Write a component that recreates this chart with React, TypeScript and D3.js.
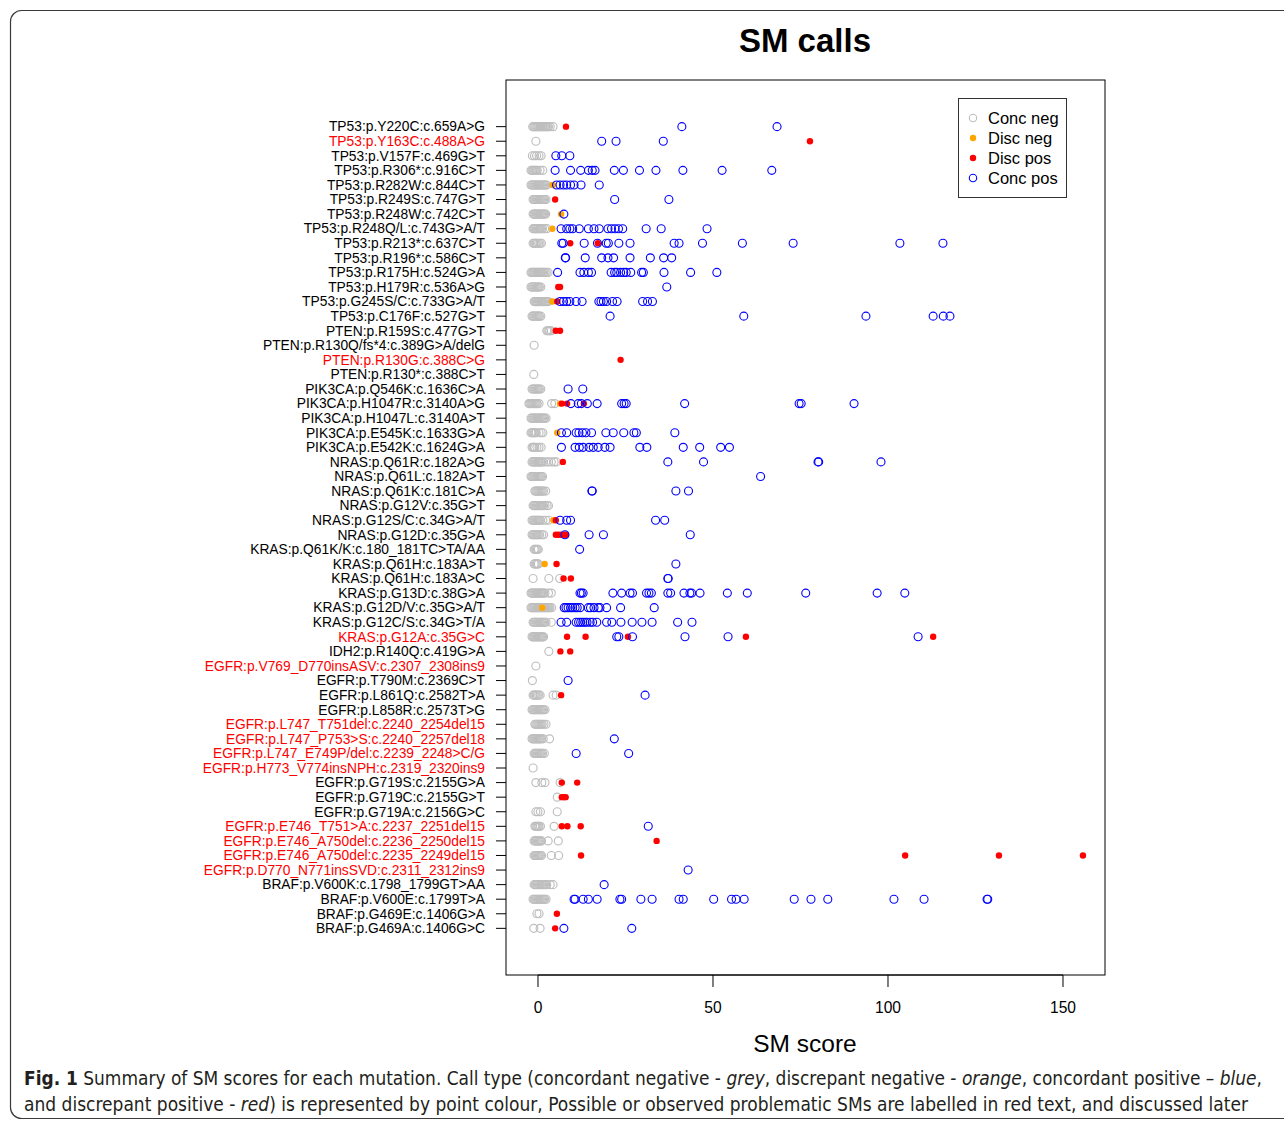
import React from "react";
import * as d3 from "d3";

const mutations: string[] = [
  "TP53:p.Y220C:c.659A>G","TP53:p.Y163C:c.488A>G","TP53:p.V157F:c.469G>T","TP53:p.R306*:c.916C>T",
  "TP53:p.R282W:c.844C>T","TP53:p.R249S:c.747G>T","TP53:p.R248W:c.742C>T","TP53:p.R248Q/L:c.743G>A/T",
  "TP53:p.R213*:c.637C>T","TP53:p.R196*:c.586C>T","TP53:p.R175H:c.524G>A","TP53:p.H179R:c.536A>G",
  "TP53:p.G245S/C:c.733G>A/T","TP53:p.C176F:c.527G>T","PTEN:p.R159S:c.477G>T","PTEN:p.R130Q/fs*4:c.389G>A/delG",
  "PTEN:p.R130G:c.388C>G","PTEN:p.R130*:c.388C>T","PIK3CA:p.Q546K:c.1636C>A","PIK3CA:p.H1047R:c.3140A>G",
  "PIK3CA:p.H1047L:c.3140A>T","PIK3CA:p.E545K:c.1633G>A","PIK3CA:p.E542K:c.1624G>A","NRAS:p.Q61R:c.182A>G",
  "NRAS:p.Q61L:c.182A>T","NRAS:p.Q61K:c.181C>A","NRAS:p.G12V:c.35G>T","NRAS:p.G12S/C:c.34G>A/T",
  "NRAS:p.G12D:c.35G>A","KRAS:p.Q61K/K:c.180_181TC>TA/AA","KRAS:p.Q61H:c.183A>T","KRAS:p.Q61H:c.183A>C",
  "KRAS:p.G13D:c.38G>A","KRAS:p.G12D/V:c.35G>A/T","KRAS:p.G12C/S:c.34G>T/A","KRAS:p.G12A:c.35G>C",
  "IDH2:p.R140Q:c.419G>A","EGFR:p.V769_D770insASV:c.2307_2308ins9","EGFR:p.T790M:c.2369C>T","EGFR:p.L861Q:c.2582T>A",
  "EGFR:p.L858R:c.2573T>G","EGFR:p.L747_T751del:c.2240_2254del15","EGFR:p.L747_P753>S:c.2240_2257del18","EGFR:p.L747_E749P/del:c.2239_2248>C/G",
  "EGFR:p.H773_V774insNPH:c.2319_2320ins9","EGFR:p.G719S:c.2155G>A","EGFR:p.G719C:c.2155G>T","EGFR:p.G719A:c.2156G>C",
  "EGFR:p.E746_T751>A:c.2237_2251del15","EGFR:p.E746_A750del:c.2236_2250del15","EGFR:p.E746_A750del:c.2235_2249del15","EGFR:p.D770_N771insSVD:c.2311_2312ins9",
  "BRAF:p.V600K:c.1798_1799GT>AA","BRAF:p.V600E:c.1799T>A","BRAF:p.G469E:c.1406G>A","BRAF:p.G469A:c.1406G>C",
];

const problematic: number[] = [2, 17, 36, 38, 42, 43, 44, 45, 49, 50, 51, 52];

// Conc neg (grey open circles), indexed by row (1-based)
const concNeg: Record<number, number[]> = {
  1: [-1.5,-1.2,-0.9,-0.6,-0.3,0,0.3,0.6,0.9,1.2,1.5,1.8,2.1,2.4,2.7,3.0,3.5,4.3],
  2: [-0.6],
  3: [-1.6,-1.0,-0.4,0.3,0.9],
  4: [-2.0,-1.7,-1.4,-1.1,-0.8,-0.5,-0.2,0.6,1.4],
  5: [-2.0,-1.7,-1.4,-1.1,-0.8,-0.5,-0.2,0.1,0.4,0.7,1.0,1.3,1.6,1.9,2.2,2.5],
  6: [-1.4,-1.1,-0.8,-0.5,-0.2,0.1,0.4,0.7,1.0,1.3,1.6,1.9,2.3],
  7: [-1.4,-1.1,-0.8,-0.5,-0.2,0.1,0.4,0.7,1.0,1.3,1.6,1.9,2.2],
  8: [-1.4,-1.1,-0.8,-0.5,-0.2,0.1,0.4,0.7,1.0,1.3,1.9,2.5],
  9: [-1.4,-1.1,-0.8,-0.5,-0.2,0.2,0.6,1.0],
  11: [-2.0,-1.7,-1.4,-1.1,-0.8,-0.5,-0.2,0.1,0.4,0.7,1.0,1.3,1.6,2.0,2.4,2.9],
  12: [-2.0,-1.7,-1.4,-1.1,-0.8,-0.5,-0.2,0.1,0.4,0.8],
  13: [-1.1,-0.8,-0.5,-0.2,0.1,0.4,0.7,1.0,1.3,1.6,1.9,2.2,2.5,3.0],
  14: [-1.7,-1.4,-1.1,-0.8,-0.5,-0.2,0.1,0.4,0.8],
  15: [2.5,2.8,3.1,3.4,3.8],
  16: [-1.1],
  18: [-1.2],
  19: [-1.7,-1.4,-1.1,-0.8,-0.5,-0.2,0.1,0.4,0.8],
  20: [-2.6,-2.3,-2.0,-1.7,-1.4,-1.1,-0.8,-0.5,-0.2,0.3,3.9,4.8],
  21: [-2.0,-1.7,-1.4,-1.1,-0.8,-0.5,-0.2,0.1,0.4,0.7,1.0,1.3,1.6,1.9,2.3],
  22: [-2.0,-1.7,-1.4,-1.1,-0.8,-0.5,0.3,0.9,1.4],
  23: [-1.7,-1.4,-1.1,-0.9,-0.3,0.3,0.9],
  24: [-1.7,-1.4,-1.1,-0.8,-0.5,-0.2,0.1,0.4,0.7,1.0,1.4,2.2,3.0,3.8,4.6,5.2],
  25: [-2.0,-1.7,-1.4,-1.1,-0.8,-0.5,-0.2,0.1,0.4,0.7,1.0,1.3],
  26: [-0.9,-0.6,-0.3,0,0.3,0.6,0.9,1.2,1.6,2.2],
  27: [-1.4,-1.1,-0.8,-0.5,-0.2,0.1,0.4,0.7,1.0,1.3,1.6,2.0,2.6,3.0],
  28: [-1.7,-1.4,-1.1,-0.8,-0.5,-0.2,0.1,0.4,0.7,1.4,2.2,3.0],
  29: [-1.7,-1.4,-1.1,-0.8,-0.5,-0.2,0.1,0.5,1.1,1.6],
  30: [-1.1,-0.8,-0.5,-0.2,0.1],
  31: [-1.1,-0.8,-0.5,-0.2,0.1],
  32: [-1.4,3.1,6.2],
  33: [-2.0,-1.7,-1.4,-1.1,-0.8,-0.5,-0.2,0.1,0.4,0.7,1.0,1.3,1.6,2.0,3.0,3.8],
  34: [-2.0,-1.7,-1.4,-1.1,-0.8,-0.5,-0.2,0.1,0.4,0.7,1.0,1.3,1.6,1.9,2.2,2.5,2.8,3.1,3.4,3.9],
  35: [-1.4,-1.1,-0.8,-0.5,-0.2,0.1,0.4,0.7,1.0,1.3,1.6,1.9,2.3,3.8],
  36: [-1.7,-1.4,-1.1,-0.8,-0.5,-0.2,0.1,0.4,0.7,1.0,1.3,1.6],
  37: [3.1],
  38: [-0.6],
  39: [-1.6],
  40: [-1.4,-1.1,-0.8,-0.5,-0.2,0.2,0.6,4.3,5.2],
  41: [-1.7,-1.4,-1.1,-0.8,-0.5,-0.2,0.1,0.4,0.7,1.0,1.3,1.6,2.0],
  42: [-0.9,-0.6,-0.3,0,0.3,0.6,0.9,1.2,1.7,2.3],
  43: [-1.7,-1.4,-1.1,-0.8,-0.5,-0.2,0.1,0.4,0.7,1.0,1.5,3.3],
  44: [-1.1,-0.8,-0.5,-0.2,0.1,0.4,0.7,1.0,1.3,1.8],
  45: [-1.4],
  46: [-0.6,1.1,2.0,6.3],
  47: [5.5],
  48: [-0.6,0,0.7,5.5],
  49: [-0.9,-0.6,-0.3,0,0.3,0.7,4.6],
  50: [-1.1,-0.8,-0.5,-0.2,0.1,0.4,0.7,1.0,2.9,5.8],
  51: [-1.1,-0.8,-0.5,-0.2,0.1,0.4,0.7,1.0,3.8,5.9],
  53: [-1.1,-0.8,-0.5,-0.2,0.1,0.4,0.7,1.0,1.3,1.6,1.9,2.2,2.5,3.5,4.3],
  54: [-1.4,-1.1,-0.8,-0.5,-0.2,0.1,0.4,0.7,1.0,1.3,1.6,1.9,2.3],
  55: [-0.3,0.3],
  56: [-1.2,0.6],
};

// Disc neg (orange filled)
const discNeg: Record<number, number[]> = {
  5: [4.2], 7: [6.6], 8: [4.1], 13: [4.1], 20: [6.3], 22: [5.5], 28: [4.4], 31: [1.9], 34: [1.2],
};

// Disc pos (red filled)
const discPos: Record<number, number[]> = {
  1: [8.0], 2: [77.7], 6: [4.9], 9: [9.2, 17.1], 12: [5.8, 6.3], 13: [5.5], 15: [5.1, 6.3],
  17: [23.6], 20: [6.8, 8.3, 13.1], 24: [7.1], 28: [5.1], 29: [5.1, 5.8, 6.6, 7.5, 8.0],
  31: [5.3], 32: [7.3, 9.4], 36: [8.3, 13.6, 25.7, 59.4, 112.9], 37: [6.4, 9.2], 40: [6.6],
  46: [6.8, 11.2], 47: [6.8, 7.4, 7.9], 49: [6.8, 8.4, 12.2], 50: [33.9],
  51: [12.3, 104.9, 131.7, 155.7], 55: [5.4], 56: [4.9],
};

// Conc pos (blue open circles)
const concPos: Record<number, number[]> = {
  1: [41.1, 68.3],
  2: [18.2, 22.3, 35.8],
  3: [5.1, 6.8, 9.1],
  4: [4.9, 9.3, 12.2, 14.4, 15.5, 16.3, 21.8, 24.4, 29.0, 33.7, 41.4, 52.6, 66.8],
  5: [5.3, 6.3, 7.3, 8.2, 9.3, 10.3, 12.3, 17.5],
  6: [21.9, 37.4],
  7: [7.4],
  8: [6.6, 8.2, 9.1, 9.9, 11.8, 14.4, 16.0, 17.5, 20.0, 21.0, 22.0, 23.0, 24.2, 30.9, 35.2, 48.3],
  9: [6.8, 7.2, 13.2, 17.0, 19.5, 20.1, 23.1, 26.3, 38.9, 40.3, 47.0, 58.4, 72.9, 103.4, 115.7],
  10: [7.8, 7.9, 13.5, 18.2, 20.0, 21.6, 26.3, 32.1, 35.9, 38.2],
  11: [5.6, 12.0, 13.1, 14.4, 15.3, 20.9, 21.9, 22.5, 23.6, 24.5, 25.2, 26.5, 29.6, 30.1, 36.0, 43.6, 51.1],
  12: [36.8],
  13: [6.3, 7.3, 8.2, 9.1, 10.9, 12.6, 17.4, 18.0, 18.7, 19.6, 21.3, 22.6, 29.9, 31.3, 32.7],
  14: [20.6, 58.8, 93.7, 112.9, 115.8, 117.7],
  19: [8.6, 12.8],
  20: [9.4, 11.5, 12.4, 14.1, 16.9, 23.9, 24.6, 25.2, 41.9, 74.6, 75.2, 90.3],
  22: [6.7, 8.2, 10.9, 11.7, 12.7, 13.7, 15.3, 19.4, 21.5, 24.5, 27.4, 28.1, 39.1],
  23: [6.7, 10.6, 11.8, 12.9, 14.6, 15.8, 17.2, 19.1, 20.6, 29.1, 31.1, 41.5, 46.2, 52.2, 54.7],
  24: [37.1, 47.3, 80.0, 80.2, 98.0],
  25: [63.6],
  26: [15.4, 15.5, 39.4, 43.0],
  28: [6.3, 8.2, 9.3, 33.6, 36.2],
  29: [7.7, 14.6, 18.7, 43.5],
  30: [11.9],
  31: [39.4],
  32: [37.1, 37.2],
  33: [12.0, 12.4, 12.9, 21.4, 23.9, 26.3, 27.0, 31.0, 31.7, 32.4, 37.1, 37.9, 41.7, 43.4, 43.9, 46.3, 54.1, 59.8, 76.5, 96.9, 104.8],
  34: [7.5, 8.0, 8.6, 9.3, 9.9, 10.6, 11.2, 12.0, 14.4, 15.0, 16.0, 17.2, 17.7, 19.6, 23.6, 33.2],
  35: [6.6, 8.2, 10.9, 11.6, 12.2, 12.8, 13.4, 14.0, 14.9, 15.6, 16.8, 19.6, 21.1, 23.7, 26.9, 29.7, 32.6, 39.9, 44.0],
  36: [22.5, 23.1, 27.0, 42.0, 54.3, 108.6],
  39: [8.6],
  40: [30.6],
  43: [21.8],
  44: [10.9, 25.9],
  49: [31.5],
  52: [42.9],
  53: [18.9],
  54: [10.3, 10.6, 12.9, 14.4, 16.9, 23.4, 23.9, 29.4, 32.6, 40.3, 41.5, 50.2, 55.3, 56.6, 58.9, 73.2, 78.0, 82.8, 101.7, 110.3, 128.3, 128.5],
  56: [7.4, 26.8],
};

const xTicks: number[] = [0, 50, 100, 150];
const legendLabels: string[] = ["Conc neg", "Disc neg", "Disc pos", "Conc pos"];

const GREY = "#bebebe";
const ORANGE = "#ffa500";
const RED = "#ff0000";
const BLUE = "#0000ff";

const box = { left: 506, right: 1105, top: 80, bottom: 975 };

function flatten(rec: Record<number, number[]>) {
  const out: { row: number; v: number }[] = [];
  Object.keys(rec).forEach((k) => {
    const r = +k;
    rec[r].forEach((v) => out.push({ row: r, v }));
  });
  return out;
}

export default function App() {
  const x = d3.scaleLinear().domain([-9.14, 162]).range([box.left, box.right]);
  const y = d3.scaleLinear().domain([-3.2, 58.2]).range([box.top, box.bottom]);
  const yRow = (r: number) => y(r - 1);
  const font = "'Liberation Sans', Arial, Helvetica, sans-serif";
  const capFont = "'Liberation Sans Narrow', 'DejaVu Sans Condensed', 'Liberation Sans', sans-serif";

  const greys = flatten(concNeg);
  const oranges = flatten(discNeg);
  const reds = flatten(discPos);
  const blues = flatten(concPos);

  const legendSym = [
    { type: "open", color: GREY },
    { type: "fill", color: ORANGE },
    { type: "fill", color: RED },
    { type: "open", color: BLUE },
  ];

  return (
    <svg width={1284} height={1124} style={{ position: "absolute", left: 0, top: 0, background: "#fff" }} fontFamily={font}>
      <rect x={0} y={0} width={1284} height={1124} fill="#fff" />
      <rect x={10.5} y={10.5} width={1300} height={1108} rx={11} fill="none" stroke="#3a3a3a" strokeWidth={1.2} />
      <text x={805} y={52} textAnchor="middle" fontSize={33} fontWeight="bold" fill="#000">SM calls</text>

      {/* plot box */}
      <rect x={box.left} y={box.top} width={box.right - box.left} height={box.bottom - box.top} fill="none" stroke="#000" strokeWidth={1} />

      {/* y axis ticks and labels */}
      {mutations.map((m, i) => (
        <g key={m + i}>
          <line x1={box.left - 10} x2={box.left} y1={yRow(i + 1)} y2={yRow(i + 1)} stroke="#000" strokeWidth={1} />
          <text x={box.left - 21} y={yRow(i + 1) + 4.8} textAnchor="end" fontSize={13.8}
            fill={problematic.includes(i + 1) ? "#ff0000" : "#000"}>{m}</text>
        </g>
      ))}

      {/* x axis */}
      <line x1={x(0)} x2={x(150)} y1={box.bottom} y2={box.bottom} stroke="#000" strokeWidth={1} />
      {xTicks.map((t) => (
        <g key={t}>
          <line x1={x(t)} x2={x(t)} y1={box.bottom} y2={box.bottom + 12} stroke="#000" strokeWidth={1} />
          <text x={x(t)} y={1013} textAnchor="middle" fontSize={15.6} fill="#000">{t}</text>
        </g>
      ))}
      <text x={805} y={1052} textAnchor="middle" fontSize={24.5} fill="#000">SM score</text>

      {/* points */}
      {greys.map((p, i) => (
        <circle key={"g" + i} cx={x(p.v)} cy={yRow(p.row)} r={4} fill="none" stroke={GREY} strokeWidth={1.15} />
      ))}
      {oranges.map((p, i) => (
        <circle key={"o" + i} cx={x(p.v)} cy={yRow(p.row)} r={3.2} fill={ORANGE} />
      ))}
      {reds.map((p, i) => (
        <circle key={"r" + i} cx={x(p.v)} cy={yRow(p.row)} r={3.2} fill={RED} />
      ))}
      {blues.map((p, i) => (
        <circle key={"b" + i} cx={x(p.v)} cy={yRow(p.row)} r={4} fill="none" stroke={BLUE} strokeWidth={1.1} />
      ))}

      {/* legend */}
      <rect x={958.5} y={98.5} width={108} height={99} fill="#fff" stroke="#333" strokeWidth={1} />
      {legendLabels.map((l, i) => {
        const cy = 118 + i * 20;
        const s = legendSym[i];
        return (
          <g key={l}>
            {s.type === "open" ? (
              <circle cx={973} cy={cy} r={3.7} fill="none" stroke={s.color} strokeWidth={1.1} />
            ) : (
              <circle cx={973} cy={cy} r={3.2} fill={s.color} />
            )}
            <text x={988} y={cy + 6} fontSize={16.5} fill="#000">{l}</text>
          </g>
        );
      })}

      {/* caption */}
      <text x={24} y={1085} fontSize={19} fill="#231f20" textLength={1238} lengthAdjust="spacingAndGlyphs" fontFamily={capFont}>
        <tspan fontWeight="bold">Fig. 1</tspan>
        <tspan> Summary of SM scores for each mutation. Call type (concordant negative - </tspan>
        <tspan fontStyle="italic">grey</tspan>
        <tspan>, discrepant negative - </tspan>
        <tspan fontStyle="italic">orange</tspan>
        <tspan>, concordant positive – </tspan>
        <tspan fontStyle="italic">blue</tspan>
        <tspan>,</tspan>
      </text>
      <text x={24} y={1111} fontSize={19} fill="#231f20" textLength={1224} lengthAdjust="spacingAndGlyphs" fontFamily={capFont}>
        <tspan>and discrepant positive - </tspan>
        <tspan fontStyle="italic">red</tspan>
        <tspan>) is represented by point colour, Possible or observed problematic SMs are labelled in red text, and discussed later</tspan>
      </text>
    </svg>
  );
}
